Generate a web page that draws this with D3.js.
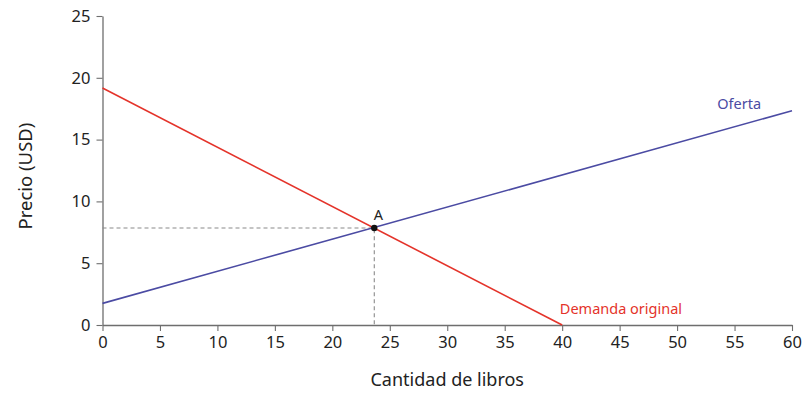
<!DOCTYPE html>
<html>
<head>
<meta charset="utf-8">
<script src="https://cdn.jsdelivr.net/npm/d3@7"></script>
<style>
  body { margin: 0; background: #fff; }
  text { font-family: "Noto Sans", "Open Sans", sans-serif; }
</style>
</head>
<body>
<div id="chart"></div>
<script>
// Graph dimension
const margin = { top: 16, right: 18, bottom: 69, left: 102.5 },
    width = 810 - margin.left - margin.right,
    height = 394 - margin.top - margin.bottom

// data
const xTicks = [0, 5, 10, 15, 20, 25, 30, 35, 40, 45, 50, 55, 60]
const yTicks = [0, 5, 10, 15, 20, 25]
const demand = [{ q: 0, p: 19.17 }, { q: 40, p: 0 }]
const supply = [{ q: 0, p: 1.75 }, { q: 60, p: 17.34 }]
const pointA = { q: 23.65, p: 7.85, label: "A" }

let x = d3.scaleLinear().domain([0, 60]).range([0, width])
let y = d3.scaleLinear().domain([0, 25]).range([height, 0])

let svg = d3.select("#chart")
    .append("svg")
    .attr("width", 810)
    .attr("height", 394)
    .append("g")
    .attr("transform", `translate(${margin.left},${margin.top})`)

// axes
let xAxis = svg.append("g")
    .attr("transform", `translate(0,${height})`)
    .call(d3.axisBottom(x).tickValues(xTicks).tickSize(6).tickPadding(5).tickSizeOuter(0))
let yAxis = svg.append("g")
    .call(d3.axisLeft(y).tickValues(yTicks).tickSize(6).tickPadding(6).tickSizeOuter(0))

;[xAxis, yAxis].forEach(function (a) {
    a.select(".domain").attr("stroke", "#6e6e6e").attr("stroke-width", 1.3)
    a.selectAll(".tick line").attr("stroke", "#6e6e6e").attr("stroke-width", 1.1)
    a.selectAll(".tick text")
        .style("font-size", "16.5px")
        .style("font-family", "Noto Sans, sans-serif")
        .attr("fill", "#222")
})

// dashed guides to A
svg.append("path")
    .attr("d", `M0,${y(pointA.p)}H${x(pointA.q)}V${height}`)
    .attr("fill", "none")
    .attr("stroke", "#8a8a8a")
    .attr("stroke-width", 1.1)
    .attr("stroke-dasharray", "4,3")

let line = d3.line().x(function (d) { return x(d.q) }).y(function (d) { return y(d.p) })

svg.append("path")
    .datum(supply)
    .attr("d", line)
    .attr("fill", "none")
    .attr("stroke", "#4b4ba3")
    .attr("stroke-width", 1.6)

svg.append("path")
    .datum(demand)
    .attr("d", line)
    .attr("fill", "none")
    .attr("stroke", "#e4332a")
    .attr("stroke-width", 1.6)

// point A
svg.append("circle")
    .attr("cx", x(pointA.q))
    .attr("cy", y(pointA.p))
    .attr("r", 3.2)
    .attr("fill", "#111")

svg.append("text")
    .attr("x", x(pointA.q) + 4)
    .attr("y", y(pointA.p) - 8)
    .attr("text-anchor", "middle")
    .style("font-size", "14.5px")
    .attr("fill", "#222")
    .text(pointA.label)

// line labels
svg.append("text")
    .attr("x", x(53.5))
    .attr("y", y(17.5))
    .style("font-size", "14.5px")
    .attr("fill", "#4b4ba3")
    .text("Oferta")

svg.append("text")
    .attr("x", x(39.8))
    .attr("y", y(0.9))
    .style("font-size", "14.5px")
    .attr("fill", "#e4332a")
    .text("Demanda original")

// axis titles
svg.append("text")
    .attr("x", x(30))
    .attr("y", height + 61)
    .attr("text-anchor", "middle")
    .style("font-size", "18px")
    .attr("fill", "#222")
    .text("Cantidad de libros")

svg.append("text")
    .attr("transform", `translate(${-71},${y(12.05)}) rotate(-90)`)
    .attr("text-anchor", "middle")
    .style("font-size", "18.5px")
    .attr("fill", "#222")
    .text("Precio (USD)")
</script>
</body>
</html>
